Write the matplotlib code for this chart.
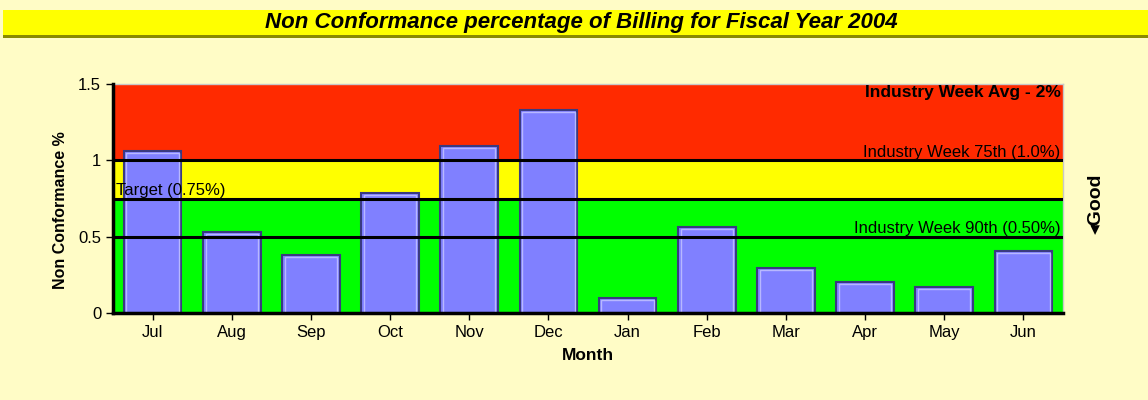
import matplotlib.pyplot as plt
import matplotlib
from matplotlib.patches import Rectangle

matplotlib.rcParams['font.family'] = ['Liberation Sans', 'DejaVu Sans']

months = ["Jul", "Aug", "Sep", "Oct", "Nov", "Dec", "Jan", "Feb", "Mar", "Apr", "May", "Jun"]
non_conf = [1.06, 0.53, 0.38, 0.785, 1.095, 1.33, 0.10, 0.565, 0.293, 0.203, 0.172, 0.405]

target = 0.75
week_75th = 1.0
week_90th = 0.5
y_max = 1.5

bg = '#FFFCC6'

fig = plt.figure(figsize=(11.48, 4.0), dpi=100, facecolor=bg)

# title band
fig.patches.append(Rectangle((0.003, 0.91), 0.997, 0.065, transform=fig.transFigure,
                             facecolor='#FFFF00', edgecolor='none', zorder=0))
fig.patches.append(Rectangle((0.003, 0.905), 0.997, 0.007, transform=fig.transFigure,
                             facecolor='#8A8A00', edgecolor='none', zorder=1))
fig.text(0.506, 0.944, "Non Conformance percentage of Billing for Fiscal Year 2004",
         ha='center', va='center', fontsize=16, fontweight='bold', fontstyle='italic')

ax = fig.add_axes([0.0984, 0.2175, 0.8276, 0.5725])
ax.set_facecolor(bg)

# zones
ax.axhspan(0, target, color='#00FF00', zorder=0)
ax.axhspan(target, week_75th, color='#FFFF00', zorder=0)
ax.axhspan(week_75th, y_max, color='#FF2A00', zorder=0)

x = range(len(months))
ax.bar(x, non_conf, width=0.73, color='#8080FF', edgecolor='#3A3A80', linewidth=1.5, zorder=2)
# lighter inner edge for the raised look
ax.bar(x, [v - 0.012 for v in non_conf], width=0.66, color='none', edgecolor='#B8B8FF',
       linewidth=1.0, zorder=3)

for yv in [week_90th, target, week_75th]:
    ax.axhline(yv, color='black', linewidth=2.2, zorder=4)

ax.set_xlim(-0.5, len(months) - 0.5)
ax.set_ylim(0, y_max)
ax.set_xticks(list(x))
ax.set_xticklabels(months)
ax.set_yticks([0, 0.5, 1, 1.5])
ax.set_yticklabels(["0", "0.5", "1", "1.5"])
ax.tick_params(labelsize=12, length=5, width=1, direction='out')

for s in ['left', 'bottom']:
    ax.spines[s].set_linewidth(2.5)
    ax.spines[s].set_zorder(5)
for s in ['top', 'right']:
    ax.spines[s].set_color('#C8C8C8')
    ax.spines[s].set_linewidth(1)

ax.set_xlabel("Month", fontsize=12.5, fontweight='bold', labelpad=6)
ax.set_ylabel("Non Conformance %", fontsize=11.5, fontweight='bold')
ax.yaxis.set_label_coords(-0.047, 0.45)

ax.text(11.47, 1.445, "Industry Week Avg - 2%", ha='right', va='center',
        fontsize=12.5, fontweight='bold', zorder=6)
ax.text(11.47, week_75th + 0.005, "Industry Week 75th (1.0%)", ha='right', va='bottom',
        fontsize=12, zorder=6)
ax.text(11.47, week_90th + 0.005, "Industry Week 90th (0.50%)", ha='right', va='bottom',
        fontsize=12, zorder=6)
ax.text(-0.46, target + 0.005, "Target (0.75%)", ha='left', va='bottom',
        fontsize=12, zorder=6)

fig.text(0.955, 0.49, "\u25c2Good", rotation=90, ha='center', va='center',
         fontsize=14, fontweight='bold')

fig.savefig("out.png", dpi=100, facecolor=bg)
